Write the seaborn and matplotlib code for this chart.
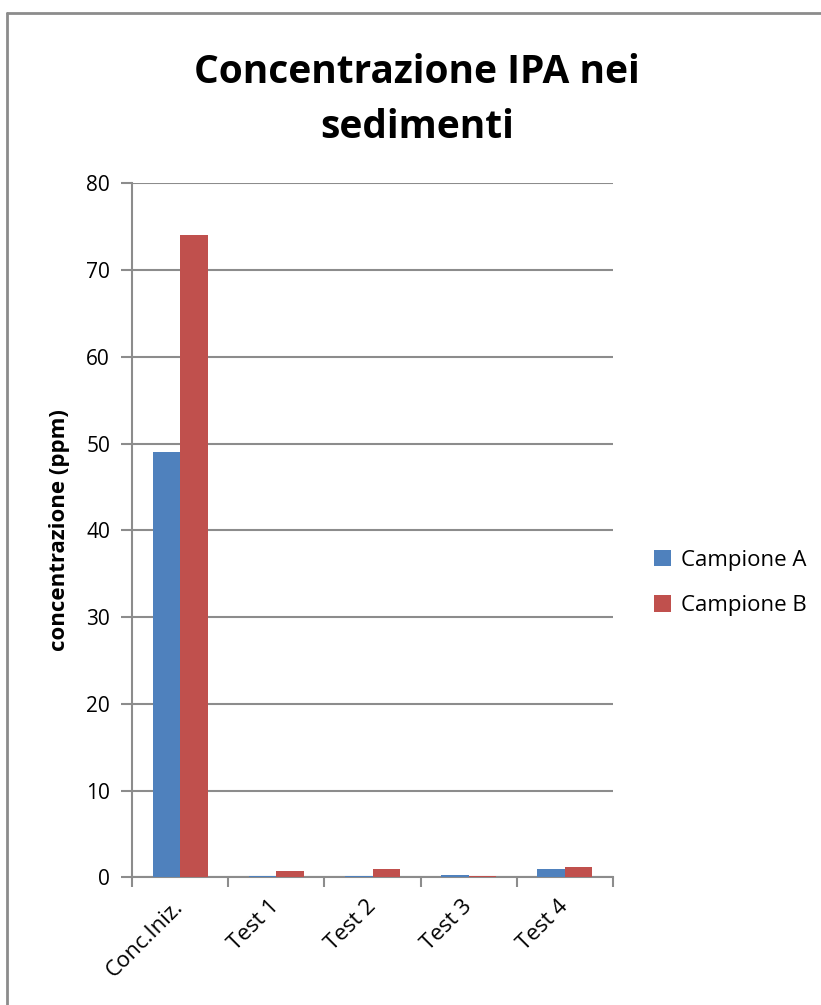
import pandas as pd
import matplotlib.pyplot as plt
import seaborn as sns
from matplotlib.lines import Line2D

# Data
categories = ["Conc.Iniz.", "Test 1", "Test 2", "Test 3", "Test 4"]
campione_a = [49.0, 0.1, 0.2, 0.3, 1.0]
campione_b = [74.0, 0.7, 1.0, 0.2, 1.2]
series_names = ["Campione A", "Campione B"]
y_ticks = [0, 10, 20, 30, 40, 50, 60, 70, 80]

df = pd.DataFrame({
    "categoria": categories * 2,
    "valore": campione_a + campione_b,
    "serie": [series_names[0]] * len(categories) + [series_names[1]] * len(categories),
})

sns.set_style("white")
plt.rcParams["font.family"] = ["Open Sans", "DejaVu Sans"]
plt.rcParams["text.color"] = "black"

W, H = 821, 1005
fig = plt.figure(figsize=(W / 100, H / 100), dpi=100)
ax = fig.add_axes([132.3 / W, 1 - 877.3 / H, 480.4 / W, 694 / H])

# Chart frame (only top and left edges fall inside the picture)
grey = "#8c8c8c"
fig.add_artist(Line2D([6.5 / W, 1.0], [1 - 13 / H, 1 - 13 / H], transform=fig.transFigure,
                      color=grey, linewidth=2))
fig.add_artist(Line2D([6.5 / W, 6.5 / W], [0.0, 1 - 13 / H], transform=fig.transFigure,
                      color=grey, linewidth=2))

sns.barplot(data=df, x="categoria", y="valore", hue="serie",
            palette=["#4F81BD", "#C0504D"], width=0.566, saturation=1,
            linewidth=0, ax=ax, zorder=3)

ax.set_ylim(0, 80)
ax.set_xlim(-0.5, 4.5)
ax.set_yticks(y_ticks)
ax.set_yticklabels([str(t) for t in y_ticks], fontsize=15, color="black")
ax.yaxis.grid(True, color=grey, linewidth=1.5, zorder=0)
ax.set_axisbelow(True)

# Category ticks between groups, like a spreadsheet chart
ax.set_xticks(range(len(categories)))
ax.set_xticklabels(categories, rotation=45, ha="right", va="center", rotation_mode="anchor",
                   fontsize=16, color="black")
ax.set_xticks([i - 0.5 for i in range(len(categories) + 1)], minor=True)
ax.tick_params(axis="x", which="major", bottom=False, length=0, pad=19)
ax.tick_params(axis="x", which="minor", bottom=True, length=7, width=1.5, color=grey,
               direction="out")
ax.tick_params(axis="y", left=True, length=8, width=1.5, color=grey, direction="out", pad=8)

for side in ["top", "right"]:
    ax.spines[side].set_visible(False)
for side in ["left", "bottom"]:
    ax.spines[side].set_color(grey)
    ax.spines[side].set_linewidth(1.5)

ax.set_xlabel("")
ax.set_ylabel("concentrazione (ppm)", fontsize=16, fontweight="bold", color="black",
              labelpad=12)

fig.text(0.508, 1 - 100 / H, "Concentrazione IPA nei\nsedimenti", ha="center", va="center",
         fontsize=28, fontweight="bold", linespacing=1.55, color="black")

ax.legend(loc="center left", bbox_to_anchor=(1.045, 0.424), frameon=False, fontsize=16,
          handlelength=0.75, handleheight=0.75, handletextpad=0.45, labelspacing=1.1)

fig.savefig("out.png", dpi=100)
